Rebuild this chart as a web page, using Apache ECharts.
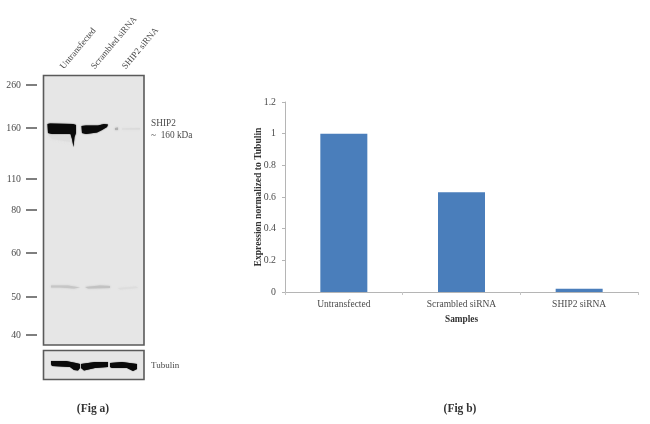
<!DOCTYPE html>
<html><head><meta charset="utf-8">
<style>html,body{margin:0;padding:0;background:#fff}#c{width:650px;height:424px;filter:blur(0.45px)}</style>
<script src="https://cdn.jsdelivr.net/npm/echarts@6/dist/echarts.min.js"></script>
</head><body><div id="c"></div>
<script>
// Fig b data
const categories = ['Untransfected', 'Scrambled siRNA', 'SHIP2 siRNA'];
const expression = [1, 0.63, 0.02];
const yAxisTitle = 'Expression normalized to Tubulin';
const xAxisTitle = 'Samples';
// Fig a text
const laneLabels = ['Untransfected', 'Scrambled siRNA', 'SHIP2 siRNA'];
const markerLabels = ['260', '160', '110', '80', '60', '50', '40'];
const F = '"Liberation Serif", serif', TXT = '#4a4a4a';

// blot layout
const markerY = [85, 128, 179, 210, 253, 297, 335];
const laneAnchor = [[62, 68], [93, 68], [124, 68]];
const g = [];
const text = (t, x, y, o = {}) => g.push({type: 'text', x, y, rotation: o.rot || 0, silent: true, z: 10,
  style: {text: t, fill: o.fill || TXT, font: `${o.bold ? 'bold ' : ''}${o.size || 9}px ${F}`,
    align: o.align || 'left', verticalAlign: 'middle'}});
const poly = (points, fill, blur = 1.5, opacity = 1) => g.push({type: 'polygon', silent: true, z: 5,
  shape: {points}, style: {fill, opacity, shadowBlur: blur, shadowColor: fill}});
const panel = (x, y, w, h) => g.push({type: 'rect', silent: true, z: 1, shape: {x, y, width: w, height: h},
  style: {fill: '#e6e6e6', stroke: '#5a5a5a', lineWidth: 1.6}});

panel(43.5, 75.5, 100.5, 269.5);
panel(43.5, 350.5, 100.5, 29);

markerLabels.forEach((t, i) => {
  text(t, 21, markerY[i], {align: 'right', size: 9.8});
  g.push({type: 'line', silent: true, z: 5, shape: {x1: 26, y1: markerY[i], x2: 37, y2: markerY[i]},
    style: {stroke: '#555', lineWidth: 1.5}});
});
laneLabels.forEach((t, i) => {
  text(t, laneAnchor[i][0], laneAnchor[i][1], {rot: 50 * Math.PI / 180, size: 9});
});

// faint smear under first band
poly([[48,135],[70,136],[70,142],[52,139]], '#dcdcdc', 3, 0.7);
// SHIP2 bands
poly([[47.5,124],[50,123.5],[73,124],[76,125],[76,133],[74.5,137],[73.5,147],[72,139],[70.5,134],[52,134],[48,133]], '#0a0a0a', 1.2);
poly([[81.5,126],[86,125.5],[98,125.5],[104,124],[108,124.5],[107,127],[102,130],[97,132.5],[86,134],[82,133]], '#0a0a0a', 1.2);
poly([[115,128],[118,127.5],[118,130],[115,130]], '#b0b0b0', 2);
poly([[122,128.5],[140,128],[140,129.5],[122,129.5]], '#dadada', 2);
// faint bands near 55 kDa
poly([[51,285.5],[68,285.5],[80,287.5],[74,288.5],[60,287.5],[51,287.5]], '#c6c6c6', 2);
poly([[85,287],[100,285.5],[110,286],[110,288],[88,288.5]], '#c2c2c2', 2);
poly([[118,288],[136,286.5],[138,288],[120,289.5]], '#dddddd', 2);
// Tubulin bands
poly([[51,361],[66,361],[76,363],[80,364],[80,368],[78,370.5],[74,370],[70,367],[52,366],[51,364]], '#0a0a0a', 1);
poly([[81,364],[95,362],[108,362],[108,367],[95,368],[84,370.5],[81,368]], '#0a0a0a', 1);
poly([[110,363],[122,362],[137,364],[137,369],[133,371],[127,368],[112,368],[110,367]], '#0a0a0a', 1);

text('SHIP2', 151, 124, {size: 9.3});
text('~  160 kDa', 151, 136, {size: 9.3});
text('Tubulin', 151, 365.5, {size: 9});
text('(Fig a)', 93, 409, {bold: true, size: 11.5, align: 'center', fill: '#333'});
text('(Fig b)', 460, 409, {bold: true, size: 11.5, align: 'center', fill: '#333'});

echarts.init(document.getElementById('c')).setOption({
  animation: false,
  backgroundColor: '#fff',
  graphic: g,
  grid: {left: 285, right: 12, top: 102, height: 190, containLabel: false},
  xAxis: {type: 'category', data: categories,
    name: xAxisTitle, nameLocation: 'middle', nameGap: 23, nameMoveOverlap: false,
    nameTextStyle: {fontFamily: F, fontWeight: 'bold', fontSize: 9.3, color: '#333'},
    axisLine: {lineStyle: {color: '#b5b5b5'}},
    axisTick: {show: true, alignWithLabel: false, length: 3, lineStyle: {color: '#c5c5c5'}},
    axisLabel: {fontFamily: F, fontSize: 9.5, color: TXT, margin: 7}},
  yAxis: {type: 'value', min: 0, max: 1.2, interval: 0.2,
    name: yAxisTitle, nameLocation: 'middle', nameGap: 21, nameMoveOverlap: false,
    nameTextStyle: {fontFamily: F, fontWeight: 'bold', fontSize: 9.6, color: '#333'},
    splitLine: {show: false},
    axisLine: {show: true, lineStyle: {color: '#b5b5b5'}},
    axisTick: {show: true, length: 3, lineStyle: {color: '#b5b5b5'}},
    axisLabel: {fontFamily: F, fontSize: 9.8, color: TXT, margin: 9,
      formatter: v => String(Math.round(v * 10) / 10)}},
  series: [{type: 'bar', data: expression, barWidth: 47, itemStyle: {color: '#4a7ebb'}}]
});
</script></body></html>
